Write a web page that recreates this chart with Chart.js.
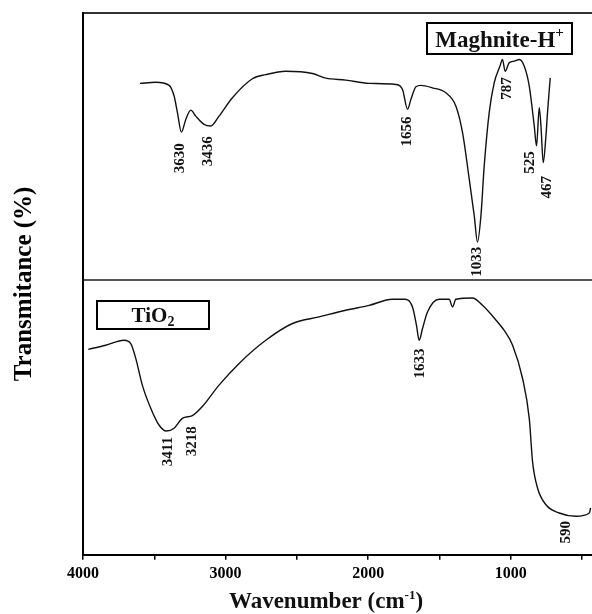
<!DOCTYPE html>
<html>
<head>
<meta charset="utf-8">
<script src="https://cdn.jsdelivr.net/npm/chart.js@4"></script>
<style>
  body { margin: 0; background: #fff; }
  canvas { display: block; }
</style>
</head>
<body>
<canvas id="ftir" width="592" height="614"></canvas>
<script>
// spectra (x = axis wavenumber, y = arbitrary transmittance units)
// upper trace (Maghnite-H+) sits above 100, lower trace (TiO2) below it
const wnMag = [3600, 3490, 3396, 3361, 3338, 3310, 3279, 3244, 3209, 3151, 3104, 3046, 2952, 2812, 2718, 2578, 2391, 2297, 2157, 1993, 1806, 1759, 1724, 1700, 1665, 1630, 1549, 1455, 1385, 1338, 1291, 1256, 1233, 1209, 1186, 1151, 1116, 1076, 1058, 1039, 1011, 975, 940, 905, 870, 835, 819, 800, 788, 772, 753, 742, 723];
const tMag = [171.4, 171.8, 170.7, 166.8, 160.9, 153.7, 158.3, 161.7, 159.5, 156.5, 155.9, 159.5, 166.2, 173.1, 174.6, 175.8, 175.0, 173.3, 172.6, 171.4, 171.0, 169.2, 162.0, 165.6, 170.2, 170.7, 169.8, 168.0, 163.2, 153.5, 136.6, 123.3, 113.7, 123.3, 141.4, 160.8, 171.6, 177.6, 180.1, 175.8, 178.9, 179.5, 180.1, 177.6, 170.4, 155.9, 148.7, 162.6, 155.9, 142.6, 152.3, 160.8, 173.4];

const wnTi = [3963, 3841, 3712, 3665, 3630, 3584, 3525, 3467, 3415, 3361, 3303, 3233, 3163, 3046, 2905, 2718, 2531, 2344, 2157, 1993, 1830, 1747, 1689, 1661, 1642, 1619, 1584, 1502, 1432, 1408, 1385, 1268, 1198, 1116, 1046, 987, 917, 870, 847, 812, 753, 660, 542, 449, 440];
const tTi = [74.7, 76.2, 78.0, 76.8, 71.4, 61.7, 53.3, 47.2, 45.0, 46.0, 49.6, 50.6, 53.9, 61.7, 69.6, 78.0, 84.1, 86.5, 88.9, 90.7, 92.9, 92.9, 90.1, 83.4, 78.0, 82.2, 88.3, 92.9, 92.9, 90.1, 92.9, 93.4, 90.7, 86.1, 81.6, 76.2, 64.1, 49.6, 33.9, 24.3, 18.2, 15.2, 14.0, 15.2, 17.0];

// peak annotations: text, where it sits on the axes
const peakText = ['3630', '3436', '1656', '1033', '787', '525', '467', '3411', '3218', '1633', '590'];
const peakWn = [3319, 3121, 1724, 1233, 1022, 865, 742, 3401, 3233, 1637, 608];
const peakT = [149.6, 152.2, 159.4, 112.0, 173.6, 146.7, 137.7, 42.8, 46.7, 75.0, 12.3];

const xTicks = [4000, 3500, 3000, 2500, 2000, 1500, 1000, 500];
const yLines = [0, 100, 197];

const serif = "'Liberation Serif', 'Times New Roman', serif";

function toPoints(xs, ys) {
    return xs.map((x, i) => ({ x: x, y: ys[i] }));
}

const extras = {
    id: 'extras',
    afterDatasetsDraw(chart) {
        const c = chart.ctx;
        const xs = chart.scales.x, ys = chart.scales.y;
        c.save();
        c.fillStyle = '#111';

        // peak labels, rotated
        c.font = 'bold 15px ' + serif;
        c.textAlign = 'right';
        c.textBaseline = 'middle';
        peakText.forEach((t, i) => {
            c.save();
            c.translate(xs.getPixelForValue(peakWn[i]), ys.getPixelForValue(peakT[i]));
            c.rotate(-Math.PI / 2);
            c.fillText(t, 0, 0);
            c.restore();
        });

        // sample boxes
        c.strokeStyle = '#000';
        c.lineWidth = 2;
        c.textAlign = 'left';
        c.textBaseline = 'alphabetic';

        c.strokeRect(427, 23, 145, 31);
        c.font = 'bold 23px ' + serif;
        const mw = c.measureText('Maghnite-H').width;
        c.font = 'bold 15px ' + serif;
        const pw = c.measureText('+').width;
        let sx = 499.5 - (mw + pw) / 2;
        c.font = 'bold 23px ' + serif;
        c.fillText('Maghnite-H', sx, 47);
        c.font = 'bold 15px ' + serif;
        c.fillText('+', sx + mw, 37);

        c.strokeRect(97, 301, 112, 28);
        c.font = 'bold 21px ' + serif;
        const tw = c.measureText('TiO').width;
        c.font = 'bold 14px ' + serif;
        const sw = c.measureText('2').width;
        sx = 153 - (tw + sw) / 2;
        c.font = 'bold 21px ' + serif;
        c.fillText('TiO', sx, 322);
        c.font = 'bold 14px ' + serif;
        c.fillText('2', sx + tw, 326);

        // x axis title with superscript
        c.font = 'bold 23px ' + serif;
        const a = 'Wavenumber (cm', b = '-1', d = ')';
        const aw = c.measureText(a).width, dw = c.measureText(d).width;
        c.font = 'bold 13px ' + serif;
        const bw = c.measureText(b).width;
        sx = 326 - (aw + bw + dw) / 2;
        c.font = 'bold 23px ' + serif;
        c.fillText(a, sx, 608);
        c.fillText(d, sx + aw + bw, 608);
        c.font = 'bold 13px ' + serif;
        c.fillText(b, sx + aw, 599);
        c.restore();
    }
};

new Chart(document.getElementById('ftir'), {
    type: 'line',
    data: {
        datasets: [{
            label: 'Maghnite-H+',
            data: toPoints(wnMag, tMag),
            borderColor: '#111',
            borderWidth: 1.4,
            pointRadius: 0,
            cubicInterpolationMode: 'monotone',
            fill: false
        }, {
            label: 'TiO2',
            data: toPoints(wnTi, tTi),
            borderColor: '#111',
            borderWidth: 1.4,
            pointRadius: 0,
            cubicInterpolationMode: 'monotone',
            fill: false
        }]
    },
    options: {
        responsive: false,
        animation: false,
        devicePixelRatio: 1,
        layout: { padding: { top: 13, right: 0, bottom: 27, left: 0 } },
        plugins: {
            legend: { display: false },
            tooltip: { enabled: false }
        },
        scales: {
            x: {
                type: 'linear',
                reverse: true,
                min: 430,
                max: 4000,
                afterBuildTicks: s => { s.ticks = xTicks.map(v => ({ value: v })); },
                ticks: {
                    color: '#000',
                    padding: 4,
                    maxRotation: 0,
                    autoSkip: false,
                    font: { family: serif, size: 16, weight: 'bold' },
                    callback: v => (v % 1000 === 0 ? String(v) : '')
                },
                grid: {
                    drawOnChartArea: false,
                    tickLength: 5,
                    color: '#000',
                    lineWidth: 1.5
                },
                border: { color: '#000', width: 2 }
            },
            y: {
                min: 0,
                max: 197,
                afterBuildTicks: s => { s.ticks = yLines.map(v => ({ value: v })); },
                ticks: { display: false },
                grid: {
                    drawTicks: false,
                    lineWidth: 2,
                    color: ctx => (ctx.tick.value === 100 ? '#555' : ctx.tick.value === 197 ? '#333' : 'rgba(0,0,0,0)')
                },
                border: { color: '#000', width: 2 },
                title: {
                    display: true,
                    text: 'Transmitance (%)',
                    color: '#000',
                    font: { family: serif, size: 25, weight: 'bold' },
                    padding: { top: 10, bottom: 43 }
                }
            }
        }
    },
    plugins: [extras]
});
</script>
</body>
</html>
